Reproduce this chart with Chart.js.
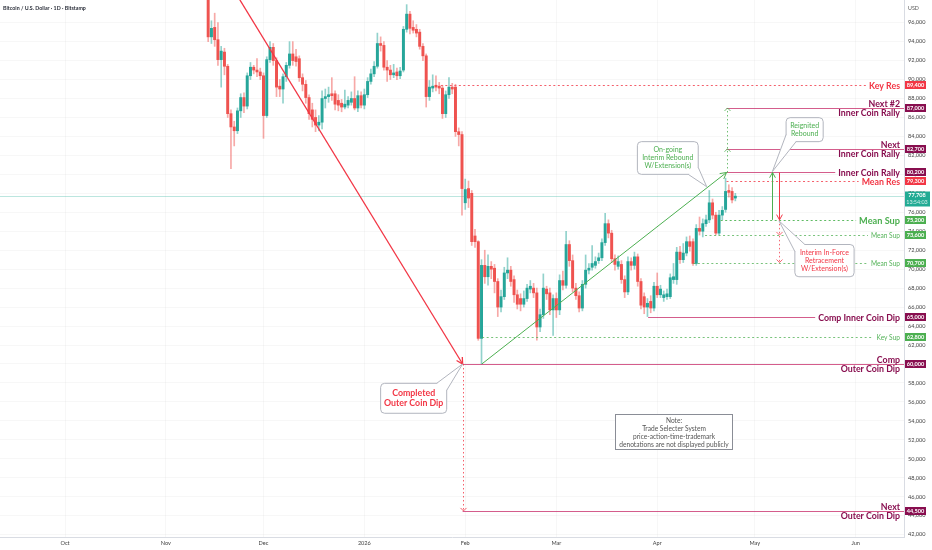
<!DOCTYPE html>
<html><head><meta charset="utf-8">
<script src="https://cdn.jsdelivr.net/npm/chart.js@4.4.1/dist/chart.umd.min.js"></script>
<style>html,body{margin:0;padding:0;background:#fff;}#wrap{width:932px;height:550px;}canvas{display:block;}</style>
</head><body><div id="wrap"><canvas id="c" width="932" height="550"></canvas></div>
<script>
// ---- data (prices in thousands of USD) ----
const firstDay = 44; // days since 2025-10-01  (first candle: 14 Nov 2025)
const opens = [
 99.0,94.5,95.5,94.2,92.1,92.9,91.4,86.4,85.0,84.6,
 86.7,88.1,87.2,90.4,91.3,91.0,90.8,90.4,86.2,92.1,
 93.4,92.0,89.3,89.0,90.3,91.5,92.7,92.4,92.2,90.2,
 89.5,88.1,86.8,86.0,85.2,85.5,88.0,88.2,88.5,88.5,
 87.8,87.5,87.1,87.3,87.6,88.0,87.0,88.3,87.3,88.4,
 89.8,90.6,91.4,93.8,93.6,91.3,91.0,90.5,90.8,90.4,
 91.0,95.3,96.9,95.5,95.3,95.0,93.5,92.5,88.2,89.1,
 89.4,89.3,89.1,86.4,88.4,89.2,89.2,84.5,84.2,77.0,
 78.5,78.0,73.5,72.9,62.7,70.4,69.2,70.3,70.1,68.7,
 66.0,67.1,69.6,69.9,68.9,67.3,66.9,66.3,66.9,67.9,
 68.0,67.5,63.9,65.2,67.9,67.5,65.7,66.9,65.7,68.8,
 68.3,72.6,70.9,68.0,67.2,65.9,68.4,69.9,70.2,70.4,
 70.9,71.2,72.8,74.8,73.8,71.1,70.3,70.5,68.9,67.6,
 70.8,70.4,71.3,68.7,67.1,66.0,66.6,65.9,68.2,67.3,
 67.0,67.1,67.1,68.9,68.9,71.8,71.0,71.7,72.9,72.9,
 70.6,74.3,74.0,74.8,75.2,77.0,75.7,73.8,75.7,76.3,
 78.3,78.2,77.5];
const highs = [
 99.5,96.2,97.0,96.0,93.5,93.3,91.6,86.8,85.6,87.0,
 88.5,88.6,90.7,91.8,91.5,92.2,91.2,90.7,92.4,94.0,
 93.8,92.3,90.0,90.6,91.8,94.0,94.0,93.2,92.5,90.6,
 89.9,88.4,87.5,86.8,86.2,88.8,89.0,89.2,90.2,88.8,
 88.4,87.9,88.9,88.2,88.7,90.3,88.8,88.7,89.0,90.2,
 91.1,91.9,94.9,94.5,94.0,92.0,91.5,91.6,91.2,91.3,
 95.6,97.9,97.2,96.2,95.8,95.3,93.8,92.7,89.9,90.5,
 90.4,89.7,89.4,88.8,90.2,89.6,89.5,84.9,84.5,79.5,
 79.3,78.3,74.2,73.0,71.0,72.0,71.5,70.8,70.5,69.0,
 67.8,70.2,71.2,70.3,69.3,67.8,67.4,67.7,68.4,68.8,
 68.5,68.0,65.8,69.5,68.2,68.0,67.3,67.5,69.4,69.8,
 74.0,73.0,71.5,68.5,67.6,68.8,71.5,70.6,72.5,71.3,
 71.7,73.2,75.9,75.2,74.1,71.5,71.4,70.9,69.3,71.3,
 71.2,71.8,71.6,69.0,67.5,66.9,67.2,68.6,69.6,68.3,
 67.7,67.9,69.5,70.6,72.3,72.4,72.7,73.4,73.5,73.2,
 74.7,75.5,75.3,75.7,78.3,77.4,76.0,76.2,76.6,79.6,
 78.9,78.6,78.0];
const lows = [
 94.0,93.8,93.5,91.5,89.2,90.5,86.0,80.6,83.0,84.3,
 86.0,86.5,86.9,90.0,90.6,90.3,90.0,83.8,86.0,91.8,
 91.5,88.2,88.2,87.5,89.8,91.2,91.5,91.4,89.8,88.8,
 87.5,85.8,85.0,84.5,84.6,84.8,87.0,87.6,87.8,86.8,
 86.7,86.6,86.9,87.0,87.3,86.8,86.6,87.0,86.9,88.1,
 89.5,90.3,91.2,93.0,91.0,89.8,90.0,90.2,90.0,90.1,
 90.8,95.0,94.8,94.9,94.5,93.2,92.0,87.1,87.8,88.7,
 88.8,88.5,85.9,86.0,88.0,88.5,84.0,83.0,75.7,76.3,
 76.5,72.5,72.3,62.5,60.0,68.5,68.3,69.0,67.5,65.0,
 65.5,66.8,69.0,68.2,66.5,65.8,65.6,66.0,66.6,67.5,
 67.0,62.5,63.4,64.8,66.8,65.2,63.0,64.9,65.2,67.8,
 68.0,70.3,67.6,66.8,65.5,65.6,68.0,69.5,69.9,70.1,
 70.6,70.9,72.5,73.3,70.7,69.9,70.0,68.5,67.0,67.3,
 69.9,70.0,68.2,65.8,65.3,65.0,65.4,65.6,67.0,67.0,
 66.6,66.8,66.9,68.5,68.4,70.6,70.7,71.4,71.9,70.4,
 70.4,73.6,73.4,74.5,74.9,75.3,73.6,73.6,75.2,76.0,
 77.6,77.0,77.2];
const closes = [
 94.5,95.4,94.2,92.1,93.0,91.4,86.4,85.0,84.6,86.7,
 88.1,87.2,90.4,91.3,91.0,90.8,90.4,86.2,92.1,93.4,
 92.0,89.2,89.0,90.3,91.5,92.7,92.0,91.9,90.2,89.5,
 88.1,86.4,85.8,85.2,85.5,88.0,88.2,88.4,88.3,87.4,
 87.3,87.1,87.4,87.8,88.0,87.0,88.3,87.3,88.4,89.8,
 90.6,91.4,93.8,93.6,91.3,91.0,90.5,90.7,90.4,90.9,
 95.3,96.9,95.4,95.2,94.9,93.5,92.5,88.2,89.2,89.3,
 89.2,89.1,86.4,88.4,89.2,89.0,84.5,84.2,78.5,78.4,
 77.5,72.9,72.9,62.7,70.4,69.2,70.3,70.0,68.7,66.0,
 67.1,69.6,69.9,68.7,67.3,66.3,66.3,66.9,68.0,68.2,
 67.5,63.9,65.2,68.0,67.4,65.7,66.9,65.7,68.8,68.3,
 72.6,70.9,68.0,67.2,65.9,68.4,69.9,70.1,70.6,70.8,
 71.2,72.8,74.8,73.8,71.1,70.5,70.8,68.9,67.6,70.8,
 70.4,71.3,68.7,66.2,66.0,66.4,65.9,68.2,67.3,67.9,
 67.3,67.4,69.1,69.2,71.8,71.0,71.7,72.9,72.4,70.6,
 74.3,74.0,74.8,75.2,77.0,75.7,73.8,75.7,76.2,78.2,
 78.1,77.3,77.7];

const monthTickDays = [0,31,61,92,123,151,182,212,243];
const monthTickLabels = ['Oct','Nov','Dec','2026','Feb','Mar','Apr','May','Jun'];
const priceTicks = [42,44,46,48,50,52,54,56,58,60,62,64,66,68,70,72,74,76,78,80,82,84,86,88,90,92,94,96];
const lastPrice = 77.708;
const lastTime = '13:54:03';

// horizontal levels
const levelPrices    = [89.4, 87.0, 82.7, 80.2, 79.3, 75.2, 73.6, 70.7, 65.0, 62.8, 60.0, 44.5];
const levelStartDays = [115.5, 203.3, 203.3, 203.3, 203.3, 201.5, 196.7, 193.1, 179.2, 128.2, 122.2, 122.2];
const levelNames = [['Key Res'],['Next #2','Inner Coin Rally'],['Next','Inner Coin Rally'],['Inner Coin Rally'],['Mean Res'],
  ['Mean Sup'],['Mean Sup'],['Mean Sup'],['Comp Inner Coin Dip'],['Key Sup'],['Comp','Outer Coin Dip'],['Next','Outer Coin Dip']];
const levelKinds = ['res','rally','rally','rally','res','supBig','supSmall','supSmall','rally','supSmall','rally','rally'];

// drawings in (day, price) units
const trendFrom = [[50.0,100.5],[128.1,60.0]];
const trendTo   = [[122.2,60.0],[203.3,80.2]];
const trendKinds = ['red','green'];

const callouts = [
 {box:[97.0,57.96,117.3,54.8], tip:[122.2,60.0], corner:'tr', lines:['Completed','Outer Coin Dip'], kind:'red', big:true},
 {box:[175.9,83.45,194.6,80.0], tip:[197.2,78.7], corner:'br', lines:['On-going','Interim Rebound','W/Extension(s)'], kind:'green'},
 {box:[221.6,85.98,233.0,83.45], tip:[217.4,80.3], corner:'bl', lines:['Reignited','Rebound'], kind:'green'},
 {box:[224.3,72.6,242.5,69.2], tip:[219.4,75.1], corner:'tl', lines:['Interim In-Force','Retracement','W/Extension(s)'], kind:'red'}
];
const noteBox = [169.0,54.72,204.9,51.0];
const noteLines = ['Note:','Trade Selecter System','price-action-time-trademark','denotations are not displayed publicly'];

// ---- styles ----
const UP='#26a69a', DOWN='#ef5350';
const RED='#f23645', GREEN='#4caf50', MAROON='#880e4f';
const FONT='Lato, "Noto Sans", sans-serif';
const kindStyle = {
  res:{line:'#f4606c',dash:[2,2.5],text:RED,size:8.8,weight:'bold',box:RED},
  rally:{line:'rgba(194,24,91,0.7)',dash:[],text:MAROON,size:8.8,weight:'bold',box:MAROON},
  supBig:{line:'#5fbb63',dash:[2,2.5],text:GREEN,size:9.2,weight:'bold',box:GREEN},
  supSmall:{line:'rgba(76,175,80,0.75)',dash:[2,2.5],text:'rgba(76,175,80,0.95)',size:6.6,weight:'normal',box:GREEN}
};

const days = opens.map((_,i)=>firstDay+i);
const isUp = opens.map((o,i)=>closes[i]>=o);
const wickData = days.map((d,i)=>({x:d,y:[lows[i],highs[i]]}));
const bodyData = days.map((d,i)=>({x:d,y:[opens[i],closes[i]]}));

function fmt(v){return Math.round(v*1000).toLocaleString('en-US');}

function head(ctx,x1,y1,x2,y2,size,color,w){
  const a=Math.atan2(y2-y1,x2-x1);
  ctx.save();ctx.setLineDash([]);ctx.strokeStyle=color;ctx.lineWidth=w;
  ctx.beginPath();
  ctx.moveTo(x2-size*Math.cos(a-0.5),y2-size*Math.sin(a-0.5));
  ctx.lineTo(x2,y2);
  ctx.lineTo(x2-size*Math.cos(a+0.5),y2-size*Math.sin(a+0.5));
  ctx.stroke();ctx.restore();
}
function rrect(ctx,x,y,w,h,r){
  ctx.beginPath();ctx.moveTo(x+r,y);ctx.lineTo(x+w-r,y);ctx.quadraticCurveTo(x+w,y,x+w,y+r);
  ctx.lineTo(x+w,y+h-r);ctx.quadraticCurveTo(x+w,y+h,x+w-r,y+h);ctx.lineTo(x+r,y+h);
  ctx.quadraticCurveTo(x,y+h,x,y+h-r);ctx.lineTo(x,y+r);ctx.quadraticCurveTo(x,y,x+r,y);ctx.closePath();
}

const annot = {
  id:'annot',
  beforeDatasetsDraw(chart){
    const ctx=chart.ctx, a=chart.chartArea, Y=v=>chart.scales.y.getPixelForValue(v);
    ctx.save();
    ctx.strokeStyle='rgba(34,171,148,0.3)';ctx.lineWidth=1;
    const y=Math.round(Y(lastPrice))+0.5;
    ctx.beginPath();ctx.moveTo(a.left,y);ctx.lineTo(a.right,y);ctx.stroke();
    ctx.restore();
  },
  afterDatasetsDraw(chart){
    const ctx=chart.ctx, a=chart.chartArea;
    const X=v=>chart.scales.x.getPixelForValue(v), Y=v=>chart.scales.y.getPixelForValue(v);
    ctx.save();
    ctx.beginPath();ctx.rect(a.left,a.top,a.right-a.left,a.bottom-a.top);ctx.clip();
    // levels
    levelPrices.forEach((p,i)=>{
      const st=kindStyle[levelKinds[i]], y=Math.round(Y(p))+0.5, x0=X(levelStartDays[i]);
      const names=levelNames[i], tr=a.right-4;
      ctx.font=`${st.weight} ${st.size}px ${FONT}`;
      let xEnd=a.right;
      if(names.length===1){ xEnd=tr-ctx.measureText(names[0]).width-3; }
      ctx.strokeStyle=st.line;ctx.lineWidth=1;ctx.setLineDash(st.dash);
      ctx.beginPath();ctx.moveTo(x0,y);ctx.lineTo(xEnd,y);ctx.stroke();
      ctx.setLineDash([]);
      ctx.fillStyle=st.text;ctx.textAlign='right';ctx.textBaseline='middle';
      if(names.length===1){ctx.fillText(names[0],tr,y+0.5);}
      else{ctx.fillText(names[0],tr,y-4.5);ctx.fillText(names[1],tr,y+5);}
    });
    // trend lines
    trendFrom.forEach((f,i)=>{
      const col=trendKinds[i]==='red'?RED:GREEN, w=trendKinds[i]==='red'?1.3:1;
      const x1=X(f[0]),y1=Y(f[1]),x2=X(trendTo[i][0]),y2=Y(trendTo[i][1]);
      ctx.strokeStyle=col;ctx.lineWidth=w;ctx.setLineDash([]);
      ctx.beginPath();ctx.moveTo(x1,y1);ctx.lineTo(x2,y2);ctx.stroke();
      head(ctx,x1,y1,x2,y2,7,col,w);
    });
    // dotted projection lines with chevrons
    const dotV=(d,p1,p2,marks,col)=>{
      const x=Math.round(X(d))+0.5;
      ctx.strokeStyle=col;ctx.lineWidth=1;ctx.setLineDash([1.5,2.5]);
      ctx.beginPath();ctx.moveTo(x,Y(p1));ctx.lineTo(x,Y(p2));ctx.stroke();ctx.setLineDash([]);
      const dir=p2>p1?-1:1;
      marks.forEach(m=>{const y=Y(m);ctx.beginPath();ctx.moveTo(x-3,y-3*dir);ctx.lineTo(x,y);ctx.lineTo(x+3,y-3*dir);ctx.stroke();});
    };
    dotV(203.3,80.2,87.0,[82.7,87.0],'rgba(76,175,80,0.8)');
    dotV(219.4,75.2,70.7,[73.6,70.7],'rgba(242,54,69,0.75)');
    dotV(122.2,60.0,44.5,[44.5],'rgba(242,54,69,0.8)');
    // solid vertical arrows
    const arr=(d,p1,p2,col)=>{const x=Math.round(X(d))+0.5,y1=Y(p1),y2=Y(p2);
      ctx.strokeStyle=col;ctx.lineWidth=1;ctx.beginPath();ctx.moveTo(x,y1);ctx.lineTo(x,y2);ctx.stroke();head(ctx,x,y1,x,y2,6,col,1);};
    arr(217.4,75.2,80.2,GREEN);
    arr(219.4,80.2,75.2,RED);
    // callouts
    callouts.forEach(c=>{
      const x1=X(c.box[0]),y1=Y(c.box[1]),x2=X(c.box[2]),y2=Y(c.box[3]);
      const tx=X(c.tip[0]),ty=Y(c.tip[1]);
      ctx.lineWidth=1;ctx.strokeStyle='#b2b5be';ctx.fillStyle='#ffffff';
      rrect(ctx,x1,y1,x2-x1,y2-y1,4);ctx.fill();ctx.stroke();
      const cx=c.corner[1]==='r'?x2:x1, cy=c.corner[0]==='t'?y1:y2;
      const hx=c.corner[1]==='r'?-10:10, vy=c.corner[0]==='t'?7:-7;
      ctx.beginPath();ctx.moveTo(cx+hx,cy);ctx.lineTo(tx,ty);ctx.lineTo(cx,cy+vy);ctx.closePath();ctx.fill();
      ctx.beginPath();ctx.moveTo(cx+hx,cy);ctx.lineTo(tx,ty);ctx.lineTo(cx,cy+vy);ctx.stroke();
      const fs=c.big?8.8:7, lh=c.big?9.4:8;
      ctx.font=`${c.big?'bold ':''}${fs}px ${FONT}`;ctx.fillStyle=c.kind==='red'?RED:GREEN;ctx.textAlign='center';ctx.textBaseline='middle';
      const my=(y1+y2)/2, mx=(x1+x2)/2;
      c.lines.forEach((t,k)=>ctx.fillText(t,mx,my+(k-(c.lines.length-1)/2)*lh));
    });
    // note box
    {
      const x1=Math.round(X(noteBox[0]))+0.5,y1=Math.round(Y(noteBox[1]))+0.5,x2=Math.round(X(noteBox[2]))+0.5,y2=Math.round(Y(noteBox[3]))+0.5;
      ctx.fillStyle='#fff';ctx.strokeStyle='#8a8d96';ctx.lineWidth=1;
      ctx.fillRect(x1,y1,x2-x1,y2-y1);ctx.strokeRect(x1,y1,x2-x1,y2-y1);
      ctx.font=`6.6px ${FONT}`;ctx.fillStyle='#555';ctx.textAlign='center';ctx.textBaseline='middle';
      const my=(y1+y2)/2+1, mx=(x1+x2)/2;
      noteLines.forEach((t,k)=>ctx.fillText(t,mx,my+(k-1.5)*7.9));
    }
    ctx.restore();
  },
  afterDraw(chart){
    const ctx=chart.ctx, a=chart.chartArea, Y=v=>chart.scales.y.getPixelForValue(v);
    ctx.save();
    ctx.textAlign='center';ctx.textBaseline='middle';
    levelPrices.forEach((p,i)=>{
      const st=kindStyle[levelKinds[i]], y=Y(p);
      ctx.fillStyle=st.box;ctx.fillRect(a.right+1,Math.round(y)-4,21,8);
      ctx.fillStyle='#fff';ctx.font=`bold 5.6px ${FONT}`;
      ctx.fillText(fmt(p),a.right+11.5,Math.round(y)+0.3);
    });
    // last price
    const yl=Y(lastPrice);
    ctx.fillStyle='#22ab94';ctx.fillRect(a.right+1,Math.round(yl)-4.5,25,15);
    ctx.fillStyle='#fff';ctx.font=`bold 5.6px ${FONT}`;ctx.fillText(fmt(lastPrice),a.right+13,Math.round(yl)-0.5);
    ctx.fillStyle='rgba(255,255,255,0.8)';ctx.font=`5.4px ${FONT}`;ctx.fillText(lastTime,a.right+13,Math.round(yl)+6.5);
    // title & currency
    ctx.textAlign='left';ctx.fillStyle='#2a2e39';ctx.font=`bold 5.3px ${FONT}`;
    ctx.fillText('Bitcoin / U.S. Dollar · 1D · Bitstamp',3,8);
    ctx.fillStyle='#555';ctx.font=`5.3px ${FONT}`;ctx.fillText('USD',a.right+4,8);
    ctx.restore();
  }
};

const xMin=-65/3.254, xMax=(904-65)/3.254;
new Chart(document.getElementById('c'),{
  data:{datasets:[
    {type:'bar',data:wickData,backgroundColor:isUp.map(u=>u?'rgba(38,166,154,0.5)':'rgba(239,83,80,0.5)'),
     barThickness:1,grouped:false,borderWidth:0,borderSkipped:false},
    {type:'bar',data:bodyData,backgroundColor:isUp.map(u=>u?UP:DOWN),
     barThickness:2.3,grouped:false,borderWidth:0,borderSkipped:false,minBarLength:1}
  ]},
  options:{
    responsive:false,animation:false,devicePixelRatio:1,
    layout:{padding:0},
    plugins:{legend:{display:false},tooltip:{enabled:false}},
    scales:{
      x:{type:'linear',min:xMin,max:xMax,offset:false,
        grid:{color:'rgba(0,0,0,0.03)',drawTicks:false,offset:false},
        border:{display:true,color:'#d9dce3'},
        ticks:{padding:3,color:'#444',font:{size:5.6,family:FONT},maxRotation:0,autoSkip:false,
          callback:v=>{const k=monthTickDays.indexOf(v);return k>=0?monthTickLabels[k]:'';}},
        afterBuildTicks:s=>{s.ticks=monthTickDays.map(v=>({value:v}));},
        afterFit:s=>{s.height=13;s.paddingLeft=0;s.paddingRight=0;}
      },
      y:{type:'linear',position:'right',min:41.75,max:98.39,
        grid:{color:'rgba(0,0,0,0.03)',drawTicks:false},
        border:{display:true,color:'#d9dce3'},
        ticks:{padding:4,color:'#444',font:{size:5.6,family:FONT},callback:v=>fmt(v)},
        afterBuildTicks:s=>{s.ticks=priceTicks.map(v=>({value:v}));},
        afterFit:s=>{s.width=28;s.paddingTop=0;s.paddingBottom=0;}
      }
    }
  },
  plugins:[annot]
});
</script></body></html>
